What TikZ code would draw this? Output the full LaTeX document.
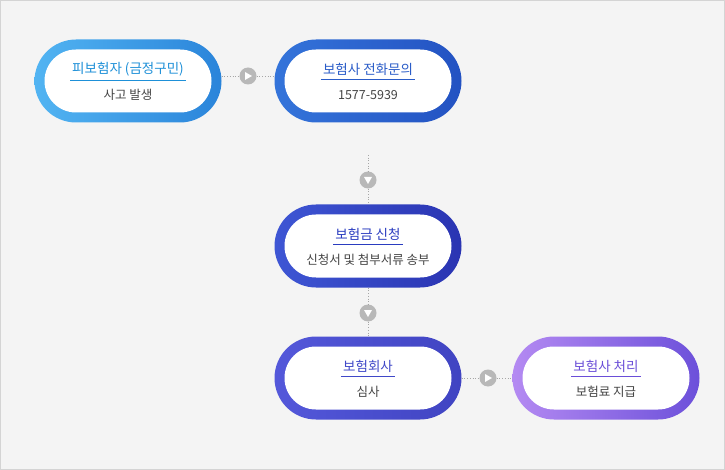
\documentclass[tikz,border=0pt]{standalone}
\usepackage{fontspec}
\setmainfont{Noto Sans CJK KR}
\usetikzlibrary{shapes.misc}
\definecolor{bg}{HTML}{F4F4F4}
\definecolor{bd}{HTML}{D4D4D4}
\definecolor{cg}{HTML}{B8B8B8}
\definecolor{sub}{HTML}{444444}
\definecolor{aA}{HTML}{52B4F2}\definecolor{aB}{HTML}{2A84DA}\definecolor{aT}{HTML}{1E90D8}
\definecolor{bA}{HTML}{3474DA}\definecolor{bB}{HTML}{2352C2}\definecolor{bT}{HTML}{2A5CC8}
\definecolor{cA}{HTML}{3E56D4}\definecolor{cB}{HTML}{2A34B2}\definecolor{cT}{HTML}{2A3CC0}
\definecolor{dA}{HTML}{5458DA}\definecolor{dB}{HTML}{4044C2}\definecolor{dT}{HTML}{4048C8}
\definecolor{eA}{HTML}{B48AF2}\definecolor{eB}{HTML}{6C50DA}\definecolor{eT}{HTML}{6A4ED8}
\tikzset{
  pill/.style={rounded rectangle, minimum width=187pt, minimum height=83pt, inner sep=0pt},
  inpill/.style={rounded rectangle, minimum width=167pt, minimum height=63pt, fill=white, inner sep=0pt},
  ttl/.style={font=\fontsize{13.5}{15}\selectfont, inner sep=0pt},
  stt/.style={font=\fontsize{12.5}{14}\selectfont, text=sub, inner sep=0pt},
  circ/.style={circle, fill=cg, minimum size=17pt, inner sep=0pt},
  dots/.style={draw=gray!70, dotted, line width=0.7pt},
}
\newcommand{\stepnode}[8]{% name, x, y, colA, colB, titlecol, title, sub
  \node[pill, left color=#4, right color=#5] (#1) at (#2,#3) {};
  \node[inpill] (#1in) at (#2,#3) {};
  \node[ttl, text=#6] (#1t) at (#2,#3-12) {#7};
  \draw[#6, line width=0.8pt] ([xshift=-2pt,yshift=-4pt]#1t.south west) -- ([xshift=2pt,yshift=-4pt]#1t.south east);
  \node[stt] (#1s) at (#2,#3+14) {#8};
}
\begin{document}
\begin{tikzpicture}[x=1pt,y=-1pt]
\useasboundingbox (0,0) rectangle (725,470);
\draw[bd, fill=bg] (0.5,0.5) rectangle (724.5,469.5);
\stepnode{a}{128}{81}{aA}{aB}{aT}{피보험자 (금정구민)}{사고 발생}
\stepnode{b}{368}{81}{bA}{bB}{bT}{보험사 전화문의}{1577-5939}
\stepnode{c}{368}{246}{cA}{cB}{cT}{보험금 신청}{신청서 및 첨부서류 송부}
\stepnode{d}{368}{378}{dA}{dB}{dT}{보험회사}{심사}
\stepnode{e}{606}{378}{eA}{eB}{eT}{보험사 처리}{보험료 지급}
% connectors
\node[circ] (c1) at (248,76) {};
\node[circ] (c2) at (368,180) {};
\node[circ] (c3) at (368,313) {};
\node[circ] (c4) at (488,378) {};
\coordinate (top2) at (368,155);
\foreach \n in {c1,c4}{\fill[white] ([xshift=-3pt,yshift=-4pt]\n.center) -- ([xshift=4pt]\n.center) -- ([xshift=-3pt,yshift=4pt]\n.center) -- cycle;}
\foreach \n in {c2,c3}{\fill[white] ([xshift=-4pt,yshift=3pt]\n.center) -- ([xshift=4pt,yshift=3pt]\n.center) -- ([yshift=-4pt]\n.center) -- cycle;}
\draw[dots] (a.east|-c1) -- (c1.west);
\draw[dots] (c1.east) -- (b.west|-c1);
\draw[dots] (top2) -- (c2.north);
\draw[dots] (c2.south) -- (c.north);
\draw[dots] (c.south) -- (c3.north);
\draw[dots] (c3.south) -- (d.north);
\draw[dots] (d.east) -- (c4.west);
\draw[dots] (c4.east) -- (e.west);
\end{tikzpicture}
\end{document}
